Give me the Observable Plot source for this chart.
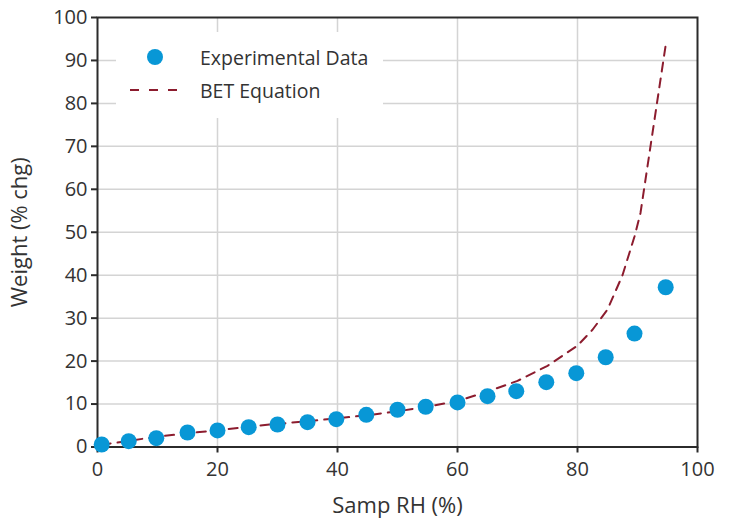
<!DOCTYPE html>
<html>
<head>
<meta charset="utf-8">
<script src="https://cdn.jsdelivr.net/npm/d3@7"></script>
<script src="https://cdn.jsdelivr.net/npm/@observablehq/plot@0.6"></script>
<style>
  html, body { margin: 0; padding: 0; background: #fff; }
  #wrap { position: relative; width: 734px; height: 520px; font-family: "Open Sans", Lato, sans-serif; color: #333; }
  #legend { position: absolute; left: 116px; top: 32px; width: 267px; height: 86px; background: #fff; }
  #legend .row { position: absolute; left: 0; height: 24px; display: flex; align-items: center; font-size: 19.5px; color: #333; }
  #legend svg { display: block; }
</style>
</head>
<body>
<div id="wrap"></div>
<script>
// Experimental data (Samp RH %, Weight % chg)
const expRH = [0.7, 5.2, 9.8, 15, 20, 25.2, 30, 35, 39.8, 44.8, 50, 54.7, 60, 65, 69.8, 74.8, 79.8, 84.7, 89.5, 94.7];
const expWeight = [0.58, 1.35, 2.05, 3.38, 3.85, 4.62, 5.24, 5.78, 6.48, 7.5, 8.67, 9.37, 10.37, 11.84, 13.0, 15.1, 17.2, 20.9, 26.4, 37.2];

// BET equation curve
const betRH = [0.7, 5, 10, 15, 20, 25, 30, 35, 40, 45, 50, 55, 60, 65, 70, 75, 80, 82.5, 85, 87.5, 89.5, 90.5, 94.7];
const betWeight = [0.5, 1.4, 2.4, 3.2, 3.9, 4.7, 5.4, 6.0, 6.7, 7.4, 8.3, 9.4, 10.7, 12.9, 15.4, 18.9, 23.6, 27.3, 32.0, 40.0, 49.0, 54.5, 93.6];

const xTicks = [0, 20, 40, 60, 80, 100];
const yTicks = [0, 10, 20, 30, 40, 50, 60, 70, 80, 90, 100];
const xGrid = [20, 40, 60, 80];
const yGrid = [10, 20, 30, 40, 50, 60, 70, 80, 90];

const seriesNames = ["Experimental Data", "BET Equation"];
const xLabel = "Samp RH (%)";
const yLabel = "Weight (% chg)";

const expData = expRH.map((x, i) => ({x, y: expWeight[i]}));
const betData = betRH.map((x, i) => ({x, y: betWeight[i]}));

const dotColor = "#0897d6";
const lineColor = "#8c1c2e";
const ink = "#2b2b2b";

const chart = Plot.plot({
  width: 734,
  height: 520,
  marginLeft: 97,
  marginRight: 37,
  marginTop: 17,
  marginBottom: 73.5,
  style: {fontFamily: "'Open Sans', Lato, sans-serif", fontSize: "20px", color: "#333", background: "#fff"},
  x: {domain: [0, 100]},
  y: {domain: [0, 100]},
  marks: [
    Plot.gridX(xGrid, {stroke: "#d4d4d4", strokeOpacity: 1, strokeWidth: 1.5}),
    Plot.gridY(yGrid, {stroke: "#d4d4d4", strokeOpacity: 1, strokeWidth: 1.5}),
    Plot.axisX(xTicks, {tickSize: 6, tickPadding: 9, stroke: ink, strokeWidth: 2, fontSize: 20, fill: "#333", label: null}),
    Plot.axisX({ticks: [], label: xLabel, labelAnchor: "center", labelArrow: "none", labelOffset: 66, fontSize: 22, fill: "#333"}),
    Plot.axisY(yTicks, {tickSize: 6, tickPadding: 4, stroke: ink, strokeWidth: 2, fontSize: 20, fill: "#333", label: null}),
    Plot.axisY({ticks: [], label: yLabel, labelAnchor: "center", labelArrow: "none", labelOffset: 86, fontSize: 22, fill: "#333"}),
    Plot.line(betData, {x: "x", y: "y", stroke: lineColor, strokeWidth: 2, strokeDasharray: "9,7"}),
    Plot.frame({stroke: ink, strokeWidth: 2}),
    Plot.dot(expData, {x: "x", y: "y", r: 8, fill: dotColor, stroke: "none"})
  ]
});

const wrap = document.getElementById("wrap");
wrap.appendChild(chart);

// Legend overlay inside plot area
const legend = document.createElement("div");
legend.id = "legend";
legend.innerHTML = `
  <div class="row" style="top:13px;">
    <svg width="80" height="24"><circle cx="39" cy="12" r="8" fill="${dotColor}"></circle></svg>
    <span style="margin-left:4px">${seriesNames[0]}</span>
  </div>
  <div class="row" style="top:46px;">
    <svg width="80" height="24"><line x1="14" x2="67" y1="12" y2="12" stroke="${lineColor}" stroke-width="2" stroke-dasharray="9,10"></line></svg>
    <span style="margin-left:4px">${seriesNames[1]}</span>
  </div>`;
wrap.appendChild(legend);
</script>
</body>
</html>
